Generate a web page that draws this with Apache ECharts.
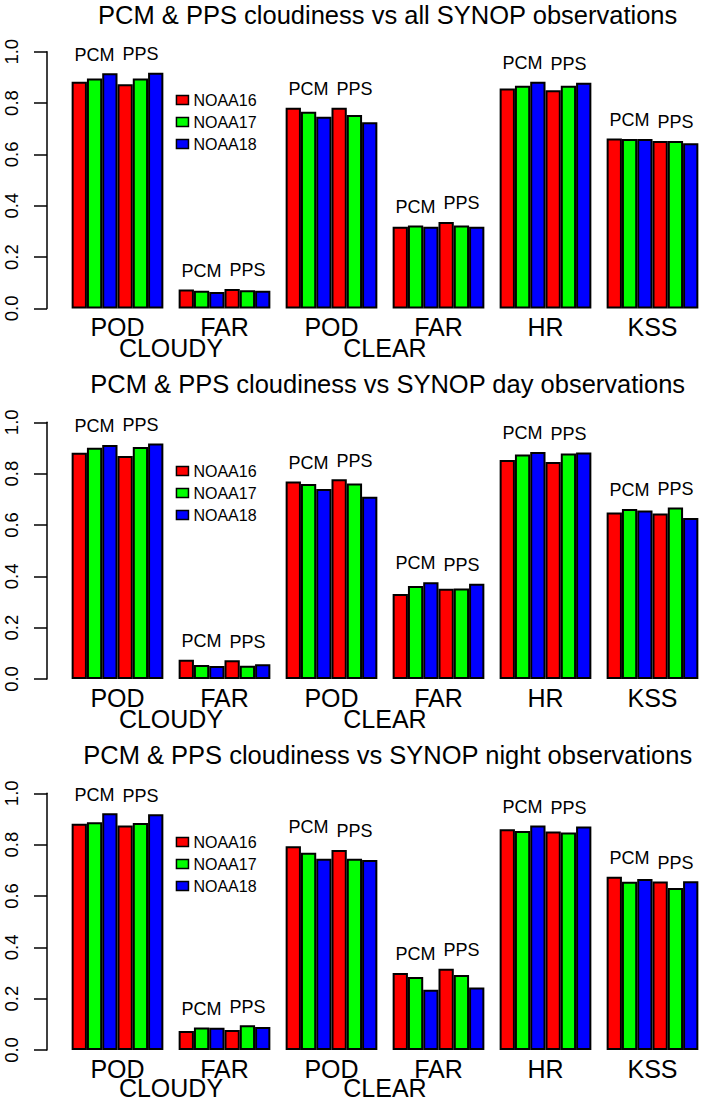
<!DOCTYPE html>
<html>
<head>
<meta charset="utf-8">
<title>PCM & PPS cloudiness vs SYNOP</title>
<script src="https://cdn.jsdelivr.net/npm/echarts@6/dist/echarts.min.js"></script>
<style>
  html, body { margin: 0; padding: 0; background: #fff; }
  #charts { width: 706px; height: 1100px; }
</style>
</head>
<body>
<div id="charts"></div>
<script>
var categories = ['POD', 'FAR', 'POD', 'FAR', 'HR', 'KSS']
var classes = ['CLOUDY', 'CLEAR', '']
var satellites = ['NOAA16', 'NOAA17', 'NOAA18']
var methods = ['PCM', 'PPS']
var yTicks = [0.0, 0.2, 0.4, 0.6, 0.8, 1.0]
var titles = [
  'PCM & PPS cloudiness vs all SYNOP observations',
  'PCM & PPS cloudiness vs SYNOP day observations',
  'PCM & PPS cloudiness vs SYNOP night observations'
]

// all observations
var allPcm16 = [0.883, 0.074, 0.782, 0.318, 0.857, 0.662]
var allPcm17 = [0.896, 0.069, 0.766, 0.323, 0.867, 0.660]
var allPcm18 = [0.916, 0.064, 0.747, 0.318, 0.883, 0.660]
var allPps16 = [0.873, 0.076, 0.782, 0.337, 0.850, 0.652]
var allPps17 = [0.896, 0.071, 0.753, 0.323, 0.867, 0.652]
var allPps18 = [0.918, 0.069, 0.725, 0.318, 0.879, 0.643]

// day observations
var dayPcm16 = [0.881, 0.075, 0.769, 0.331, 0.853, 0.649]
var dayPcm17 = [0.901, 0.055, 0.760, 0.362, 0.875, 0.662]
var dayPcm18 = [0.912, 0.051, 0.740, 0.377, 0.884, 0.656]
var dayPps16 = [0.869, 0.073, 0.778, 0.352, 0.845, 0.645]
var dayPps17 = [0.904, 0.052, 0.762, 0.353, 0.878, 0.668]
var dayPps18 = [0.917, 0.057, 0.710, 0.371, 0.882, 0.627]

// night observations
var nightPcm16 = [0.881, 0.074, 0.794, 0.300, 0.860, 0.675]
var nightPcm17 = [0.887, 0.088, 0.768, 0.284, 0.853, 0.655]
var nightPcm18 = [0.922, 0.087, 0.745, 0.235, 0.875, 0.666]
var nightPps16 = [0.875, 0.078, 0.779, 0.317, 0.851, 0.656]
var nightPps17 = [0.884, 0.096, 0.745, 0.292, 0.847, 0.631]
var nightPps18 = [0.918, 0.090, 0.740, 0.243, 0.871, 0.657]

var panels = [
  { pcm: [allPcm16, allPcm17, allPcm18], pps: [allPps16, allPps17, allPps18] },
  { pcm: [dayPcm16, dayPcm17, dayPcm18], pps: [dayPps16, dayPps17, dayPps18] },
  { pcm: [nightPcm16, nightPcm17, nightPcm18], pps: [nightPps16, nightPps17, nightPps18] }
]

var colors = ['#ff0000', '#00ff00', '#0000ff']
var font = 'Liberation Sans'
var gridLeft = 64
var gridWidth = 647.4
var gridHeight = 256.7
var gridTops = [51.7, 422.3, 793.3]
var titleTops = [1.5, 371, 741.5]
var legendTops = [92, 463, 834]
var labelLift = 0.073

function labelRender(params, api) {
  var pt = api.coord([api.value(0), api.value(1)])
  var band = api.size([1, 0])[0]
  var side = api.value(2)
  return {
    type: 'text',
    x: pt[0] + side * 1.5 * band / 7,
    y: pt[1],
    style: {
      text: side < 0 ? methods[0] : methods[1],
      fill: '#000',
      fontSize: 18,
      fontFamily: font,
      align: 'center',
      verticalAlign: 'middle'
    }
  }
}

function chart() {
  var myChart = echarts.init(document.getElementById('charts'), null, { renderer: 'svg' })
  var option = {
    animation: false,
    backgroundColor: '#fff',
    title: [],
    legend: [],
    grid: [],
    xAxis: [],
    yAxis: [],
    series: []
  }

  for (var p = 0; p < panels.length; p++) {
    option.title.push({
      text: titles[p],
      left: gridLeft + gridWidth / 2,
      textAlign: 'center',
      top: titleTops[p],
      padding: 0,
      textStyle: { fontSize: 25.5, fontWeight: 'normal', color: '#000', fontFamily: font }
    })
    option.legend.push({
      data: satellites,
      orient: 'vertical',
      left: 175.7,
      top: legendTops[p],
      padding: 0,
      itemGap: 6,
      itemWidth: 12,
      itemHeight: 9,
      selectedMode: false,
      icon: 'rect',
      itemStyle: { borderColor: '#000', borderWidth: 1.5 },
      textStyle: { fontSize: 16, color: '#000', fontFamily: font, lineHeight: 16 }
    })
    // bars grid and a twin grid for the CLOUDY / CLEAR line
    option.grid.push({ left: gridLeft, width: gridWidth, top: gridTops[p], height: gridHeight })
    option.xAxis.push({
      type: 'category',
      gridIndex: p,
      data: categories,
      axisLine: { show: false },
      axisTick: { show: false },
      axisLabel: { interval: 0, margin: 9, fontSize: 25, lineHeight: 19, color: '#000', fontFamily: font }
    })
    option.yAxis.push({
      type: 'value',
      gridIndex: p,
      min: yTicks[0],
      max: yTicks[yTicks.length - 1],
      interval: yTicks[1] - yTicks[0],
      offset: 17,
      splitLine: { show: false },
      axisLine: { show: true, lineStyle: { color: '#000', width: 1.5 } },
      axisTick: { show: true, length: 13, lineStyle: { color: '#000', width: 1.5 } },
      axisLabel: {
        rotate: 90,
        margin: 26,
        fontSize: 18.5,
        color: '#000',
        fontFamily: font,
        formatter: function (v) { return v.toFixed(1) }
      }
    })

    var groups = [panels[p].pcm, panels[p].pps]
    for (var m = 0; m < groups.length; m++) {
      for (var s = 0; s < satellites.length; s++) {
        option.series.push({
          type: 'bar',
          name: satellites[s],
          xAxisIndex: p,
          yAxisIndex: p,
          data: groups[m][s],
          barGap: '0%',
          barCategoryGap: (100 / 7) + '%',
          itemStyle: { color: colors[s], borderColor: '#000000', borderWidth: 2, borderType: 'solid' }
        })
      }
    }

    // PCM / PPS text over each half of a group
    var labels = []
    for (var i = 0; i < categories.length; i++) {
      var pcmTop = Math.max(groups[0][0][i], groups[0][1][i], groups[0][2][i])
      var ppsTop = Math.max(groups[1][0][i], groups[1][1][i], groups[1][2][i])
      labels.push([i, pcmTop + labelLift, -1])
      labels.push([i, ppsTop + labelLift, 1])
    }
    option.series.push({
      type: 'custom',
      xAxisIndex: p,
      yAxisIndex: p,
      clip: false,
      silent: true,
      renderItem: labelRender,
      data: labels
    })
  }

  for (var q = 0; q < panels.length; q++) {
    option.grid.push({ left: gridLeft, width: gridWidth, top: gridTops[q], height: gridHeight })
    option.xAxis.push({
      type: 'category',
      gridIndex: panels.length + q,
      data: classes,
      axisLine: { show: false },
      axisTick: { show: false },
      axisLabel: { interval: 0, margin: 30, fontSize: 25, lineHeight: 19, color: '#000', fontFamily: font }
    })
    option.yAxis.push({ type: 'value', gridIndex: panels.length + q, min: 0, max: 1, show: false })
  }

  myChart.setOption(option)
}

chart()
</script>
</body>
</html>
